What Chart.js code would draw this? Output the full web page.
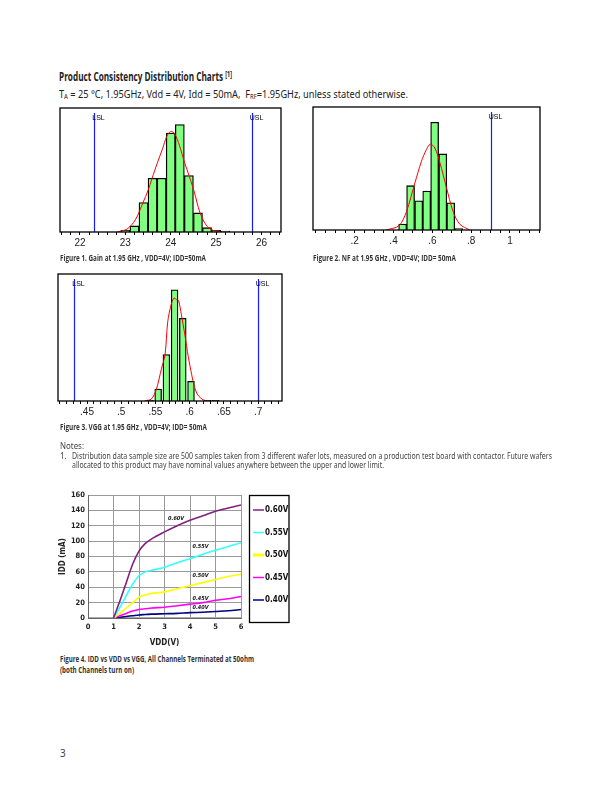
<!DOCTYPE html>
<html>
<head>
<meta charset="utf-8">
<script src="https://cdn.jsdelivr.net/npm/chart.js@4.4.0/dist/chart.umd.min.js"></script>
<style>
body{margin:0;background:#fff;width:612px;height:792px;position:relative;overflow:hidden;font-family:"Noto Sans",sans-serif;}
.t{position:absolute;white-space:nowrap;transform-origin:0 50%;color:#222;}
.title{font-family:"Open Sans";font-weight:bold;font-size:12px;line-height:12px;color:#222;}
.title span{font-size:8px;vertical-align:4px;line-height:0;}
.sub{font-size:10px;line-height:10px;color:#222;}
.sub sub{font-size:6.5px;vertical-align:-1px;line-height:0;}
.cap{font-family:"Open Sans";font-weight:bold;font-size:8px;line-height:8px;color:#333;}
.note{font-size:8px;line-height:8px;color:#444;}
canvas{position:absolute;}
</style>
</head>
<body>
<div class="t title" style="left:59px;top:71px" data-w="173">Product Consistency Distribution Charts <span>[1]</span></div>
<div class="t sub" style="left:59px;top:89px" data-w="349">T<sub>A</sub> = 25 °C, 1.95GHz, Vdd = 4V, Idd = 50mA,&nbsp; F<sub>RF</sub>=1.95GHz, unless stated otherwise.</div>

<canvas id="gain" width="229" height="150" style="left:56px;top:104px"></canvas>
<canvas id="nf" width="235" height="149" style="left:309px;top:103px"></canvas>
<canvas id="vgg" width="232" height="153" style="left:54px;top:270px"></canvas>
<canvas id="idd" width="239" height="165" style="left:56px;top:485px"></canvas>

<div class="t cap" style="left:60px;top:254px" data-w="146">Figure 1. Gain at 1.95 GHz , VDD=4V; IDD=50mA</div>
<div class="t cap" style="left:313px;top:254px" data-w="143">Figure 2. NF at 1.95 GHz , VDD=4V; IDD= 50mA</div>
<div class="t cap" style="left:60px;top:423px" data-w="147">Figure 3. VGG at 1.95 GHz , VDD=4V; IDD= 50mA</div>

<div class="t note" style="left:60px;top:442px" data-w="24">Notes:</div>
<div class="t note" style="left:60px;top:452px">1.</div>
<div class="t note" style="left:72px;top:452px" data-w="480">Distribution data sample size are 500 samples taken from 3 different wafer lots, measured on a production test board with contactor. Future wafers</div>
<div class="t note" style="left:72px;top:461px" data-w="312">allocated to this product may have nominal values anywhere between the upper and lower limit.</div>

<div class="t cap" style="left:60px;top:655px" data-w="194">Figure 4. IDD vs VDD vs VGG, All Channels Terminated at 50ohm</div>
<div class="t cap" style="left:60px;top:666px" data-w="74">(both Channels turn on)</div>

<div class="t note" style="left:60px;top:748px;font-size:10px;line-height:10px">3</div>

<script>
// gain histogram (dB), 500 samples
const gainBins = [23.0, 23.2, 23.4, 23.6, 23.8, 24.0, 24.2, 24.4, 24.6, 24.8, 25.0, 25.2];
const gainCounts = [2, 7, 34, 62, 62, 114, 124, 65, 22, 5, 2, 1];
const gainFitX = [22.82, 23.04, 23.22, 23.39, 23.5, 23.59, 23.7, 23.82, 23.91, 24.0, 24.09, 24.19, 24.3, 24.41, 24.52, 24.64, 24.78, 24.93, 25.13];
const gainFitY = [0, 3.5, 14, 34, 48, 62, 79, 96, 110, 116, 113, 100, 81, 64, 46, 23, 8, 2, 0];
const gainLimits = [22.3, 25.8];
const gainLimitNames = ['LSL', 'USL'];

// noise figure histogram (dB)
const nfBins = [0.447, 0.488, 0.530, 0.571, 0.612, 0.654, 0.695, 0.736];
const nfCounts = [9, 67, 44, 59, 163, 115, 41, 2];
const nfFitX = [0.363, 0.429, 0.467, 0.51, 0.544, 0.57, 0.59, 0.613, 0.639, 0.673, 0.707, 0.742, 0.793];
const nfFitY = [0, 6.6, 28, 71, 104, 122, 130, 124, 102, 64, 28, 8.6, 0];
const nfLimits = [0.9];
const nfLimitNames = ['USL'];

// VGG histogram (V)
const vggBins = [0.542, 0.554, 0.566, 0.578, 0.590, 0.602, 0.614, 0.626, 0.638];
const vggCounts = [1, 22, 85, 203, 151, 36, 0, 1, 1];
const vggFitX = [0.534, 0.544, 0.551, 0.559, 0.564, 0.568, 0.573, 0.577, 0.581, 0.584, 0.588, 0.593, 0.598, 0.603, 0.607, 0.612, 0.62, 0.627];
const vggFitY = [0, 3.7, 20, 60, 84, 145, 176, 188, 185, 183, 157, 121, 81, 48, 26, 11, 2, 0];
const vggLimits = [0.431, 0.7];
const vggLimitNames = ['LSL', 'USL'];

// IDD vs VDD for each VGG
const vdd = [1, 1.25, 1.5, 1.75, 2, 2.25, 2.5, 3, 3.5, 4, 4.5, 5, 5.5, 6];
const idd060 = [0, 22, 46, 70, 87, 97, 103, 112, 120, 127, 133, 139, 143, 147];
const idd055 = [0, 14, 29, 44, 55, 60, 62, 66, 72, 77, 83, 88, 93, 98];
const idd050 = [0, 6, 13, 20, 27, 30, 32, 34, 38, 42, 46, 50, 54, 57];
const idd045 = [0, 3, 6, 9, 11, 12, 13, 14, 16, 18, 20, 23, 25, 28];
const idd040 = [0, 1, 2, 3, 4, 4.5, 5, 5.5, 6, 7, 7.5, 8.5, 9.5, 11];
const vggNames = ['0.60V', '0.55V', '0.50V', '0.45V', '0.40V'];
const vggColors = ['#80207f', '#33ffff', '#ffff00', '#ff00ff', '#000080'];

Chart.defaults.animation = false;
Chart.defaults.events = [];
Chart.defaults.plugins.legend.display = false;
Chart.defaults.plugins.tooltip.enabled = false;

const NARROW = '"DejaVu Sans Condensed", "Liberation Sans Narrow", "Liberation Sans", sans-serif';

function mult(v, s) { return Math.abs(v / s - Math.round(v / s)) < 1e-6; }
function dec(v) { return parseFloat(v.toFixed(2)).toString().replace(/^0\./, '.'); }

// frame + spec limit lines
const specPlugin = {
  id: 'spec',
  afterDatasetsDraw(chart, args, opts) {
    const {ctx, chartArea: a} = chart;
    const x = chart.scales.x;
    ctx.save();
    opts.limits.forEach((v, i) => {
      const px = Math.round(x.getPixelForValue(v)) + 0.5;
      ctx.strokeStyle = '#1a1aff';
      ctx.lineWidth = 1.2;
      ctx.beginPath();
      ctx.moveTo(px, a.top + 5);
      ctx.lineTo(px, a.bottom);
      ctx.stroke();
      ctx.fillStyle = '#000';
      ctx.font = '7px "Liberation Sans"';
      ctx.textAlign = 'center';
      ctx.textBaseline = 'middle';
      ctx.fillText(opts.names[i], px + 4, a.top + 10);
    });
    ctx.strokeStyle = '#000';
    ctx.lineWidth = 1.3;
    ctx.strokeRect(a.left, a.top, a.width, a.height);
    ctx.restore();
  }
};

function histogram(id, o) {
  new Chart(document.getElementById(id), {
    type: 'bar',
    data: {
      datasets: [
        {
          type: 'line',
          data: o.fitX.map((x, i) => ({x: x, y: o.fitY[i]})),
          borderColor: '#ff0000', borderWidth: 1, pointRadius: 0, tension: 0.3, order: 0
        },
        {
          data: o.bins.map((x, i) => ({x: x, y: o.counts[i]})),
          backgroundColor: '#80ff80', borderColor: '#000', borderWidth: 1.3,
          categoryPercentage: 1, barPercentage: 1, order: 1
        }
      ]
    },
    options: {
      responsive: false,
      layout: {padding: {left: 4, right: 4, top: 4, bottom: 0}},
      scales: {
        x: {
          type: 'linear', offset: false, min: o.min, max: o.max,
          grid: {offset: false, drawOnChartArea: false, color: '#000', tickLength: 3},
          border: {display: false},
          ticks: {
            stepSize: o.step, includeBounds: false, autoSkip: false, maxRotation: 0,
            padding: 2, color: '#222', font: {family: 'Liberation Sans', size: 10},
            callback: o.fmt
          },
          afterFit: s => { s.height = 22; }
        },
        y: {display: false, min: 0, max: o.yMax}
      },
      plugins: {spec: {limits: o.limits, names: o.names}}
    },
    plugins: [specPlugin]
  });
}

histogram('gain', {
  bins: gainBins, counts: gainCounts, fitX: gainFitX, fitY: gainFitY,
  limits: gainLimits, names: gainLimitNames,
  min: 21.56, max: 26.43, step: 0.2, yMax: 143,
  fmt: v => mult(v, 1) ? String(Math.round(v)) : ''
});
histogram('nf', {
  bins: nfBins, counts: nfCounts, fitX: nfFitX, fitY: nfFitY,
  limits: nfLimits, names: nfLimitNames,
  min: -0.015, max: 1.155, step: 0.05, yMax: 186,
  fmt: v => (mult(v, 0.2) && v > 0.01) ? dec(v) : ''
});
histogram('vgg', {
  bins: vggBins, counts: vggCounts, fitX: vggFitX, fitY: vggFitY,
  limits: vggLimits, names: vggLimitNames,
  min: 0.4076, max: 0.735, step: 0.01, yMax: 232,
  fmt: v => mult(v, 0.05) ? dec(v) : ''
});

// legend box and curve labels for figure 4
const iddPlugin = {
  id: 'iddLegend',
  afterDraw(chart) {
    const {ctx} = chart;
    const x = chart.scales.x, y = chart.scales.y;
    ctx.save();
    ctx.strokeStyle = '#000';
    ctx.lineWidth = 1.3;
    ctx.strokeRect(193.5, 10.5, 39.5, 127);
    ctx.font = 'bold 8px ' + NARROW;
    ctx.textBaseline = 'middle';
    ctx.textAlign = 'left';
    chart.data.datasets.forEach((d, i) => {
      const ly = 25 + i * 22.5;
      ctx.strokeStyle = d.borderColor;
      ctx.lineWidth = i === 2 ? 3 : 1.5;
      ctx.beginPath();
      ctx.moveTo(197, ly);
      ctx.lineTo(208, ly);
      ctx.stroke();
      ctx.fillStyle = '#111';
      ctx.fillText(d.label, 209, ly);
    });
    // inline labels next to curves
    const spots = [[3.14, 129.6], [4.1, 92.6], [4.1, 54.8], [4.1, 25.3], [4.1, 13]];
    ctx.font = 'italic bold 5.5px ' + NARROW;
    ctx.fillStyle = '#111';
    spots.forEach((p, i) => {
      ctx.fillText(vggNames[i], x.getPixelForValue(p[0]), y.getPixelForValue(p[1]));
    });
    ctx.restore();
  }
};

const tickFont = {family: NARROW, size: 7.5, weight: 'bold'};
new Chart(document.getElementById('idd'), {
  type: 'line',
  data: {
    datasets: [idd060, idd055, idd050, idd045, idd040].map((s, i) => ({
      label: vggNames[i],
      data: vdd.map((v, j) => ({x: v, y: s[j]})),
      borderColor: vggColors[i], borderWidth: 1.6, pointRadius: 0,
      cubicInterpolationMode: 'monotone'
    }))
  },
  options: {
    responsive: false,
    layout: {padding: {left: 0, right: 54, top: 10, bottom: 0}},
    scales: {
      x: {
        type: 'linear', min: 0, max: 6,
        ticks: {stepSize: 1, padding: 5, color: '#222', font: tickFont},
        grid: {color: '#999', drawTicks: false},
        border: {color: '#666'},
        title: {display: true, text: 'VDD(V)', color: '#222', font: {family: NARROW, size: 8, weight: 'bold'}, padding: 2},
        afterFit: s => { s.height = 32; }
      },
      y: {
        min: 0, max: 160,
        ticks: {stepSize: 20, padding: 3, color: '#222', font: tickFont},
        grid: {
          color: c => c.tick && c.tick.value === 0 ? '#aaa' : '#999',
          lineWidth: c => c.tick && c.tick.value === 0 ? 2 : 1,
          drawTicks: false
        },
        border: {color: '#666'},
        title: {display: true, text: 'IDD (mA)', color: '#222', font: {family: NARROW, size: 8, weight: 'bold'}, padding: 2},
        afterFit: s => { s.width = 32; }
      }
    }
  },
  plugins: [iddPlugin]
});

function fitText() {
  document.querySelectorAll('[data-w]').forEach(el => {
    el.style.transform = '';
    const w = el.getBoundingClientRect().width;
    el.style.transform = 'scaleX(' + (parseFloat(el.dataset.w) / w) + ')';
  });
}
fitText();
document.fonts.ready.then(fitText);
</script>
</body>
</html>
